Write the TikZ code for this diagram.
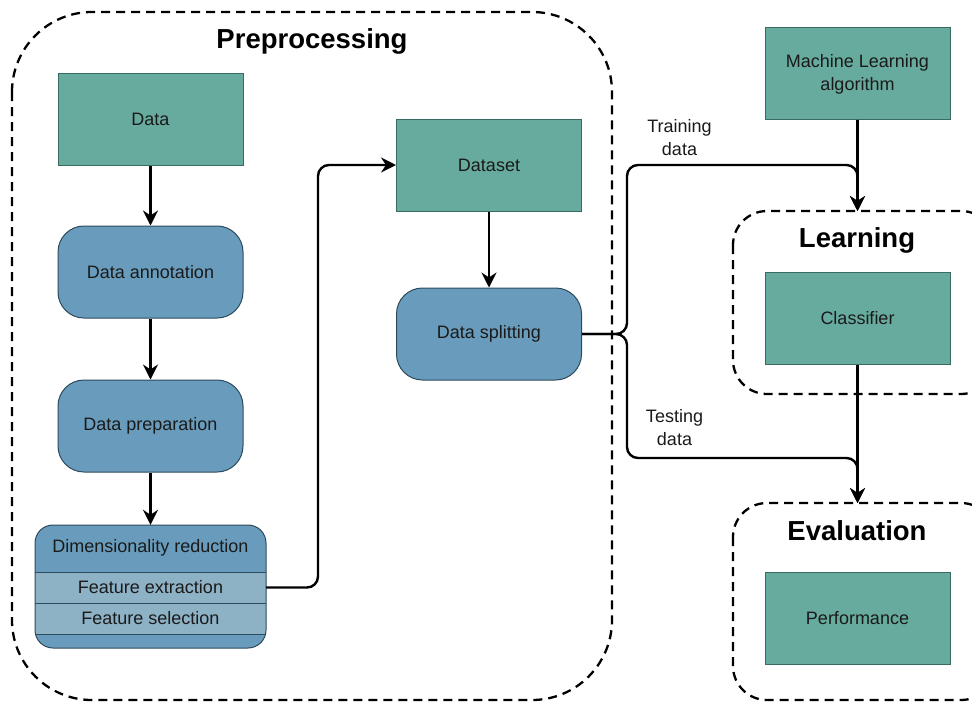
\documentclass[tikz,border=0pt]{standalone}
\usepackage{fontspec}
\setmainfont{Liberation Sans}
\usetikzlibrary{arrows.meta}
\definecolor{greenfill}{HTML}{67AB9F}
\definecolor{greenline}{HTML}{3A6B63}
\definecolor{bluefill}{HTML}{699CBC}
\definecolor{blueline}{HTML}{2C4A5C}
\definecolor{rowfill}{HTML}{8DB1C5}
\definecolor{txt}{HTML}{1A1A1A}
\tikzset{
  base/.style={font=\fontsize{18}{23}\selectfont, text=txt, align=center, inner sep=0pt},
  greenbox/.style={base, rectangle, draw=greenline, line width=1pt, fill=greenfill,
    minimum width=185pt, minimum height=92pt},
  bluebox/.style={base, rectangle, rounded corners=26pt, draw=blueline, line width=1pt,
    fill=bluefill, minimum width=185pt, minimum height=92pt},
  group/.style={draw=black, line width=2.3pt, dash pattern=on 9pt off 6pt},
  grouptitle/.style={font=\fontsize{27.5}{31}\selectfont\bfseries, text=black, inner sep=0pt},
  flow/.style={draw=black, line width=2.4pt, rounded corners=11pt},
  arr/.style={flow, -{Stealth[length=15pt,width=15pt,inset=5pt]}},
  lbl/.style={base}
}
\begin{document}
\begin{tikzpicture}[x=1pt,y=-1pt]
\useasboundingbox (0,0) rectangle (972,705);
\clip (0,0) rectangle (972,705);

% group frames
\draw[group, rounded corners=80pt] (12,12) rectangle (612,700);
\node[grouptitle] (pretitle) at (312,41) {Preprocessing};
\draw[group, rounded corners=34pt] (733,211) rectangle (995,394);
\node[grouptitle] (learntitle) at (857,240) {Learning};
\draw[group, rounded corners=34pt] (733,503) rectangle (995,700);
\node[grouptitle] (evaltitle) at (857,531) {Evaluation};

% preprocessing chain
\node[greenbox] (data) at (150.5,119) {Data};
\node[bluebox] (annot) at (150.5,272) {Data annotation};
\node[bluebox] (prep) at (150.5,426) {Data preparation};

% dimensionality reduction block with its two rows
\node[base, rectangle, rounded corners=18pt, fill=bluefill, minimum width=231pt,
  minimum height=123pt] (dimred) at (150.5,586.5) {};
\fill[rowfill] (35,572) rectangle (266,634);
\draw[blueline, line width=1pt] (35,572) -- (266,572) (35,603) -- (266,603) (35,634) -- (266,634);
\draw[blueline, line width=1pt, rounded corners=18pt] (35,525) rectangle (266,648);
\node[base] (dimtext) at (150.5,547.5) {Dimensionality reduction};
\node[base, minimum width=231pt, minimum height=31pt] (fext) at (150.5,587.5) {Feature extraction};
\node[base, minimum width=231pt, minimum height=31pt] (fsel) at (150.5,618.5) {Feature selection};

\node[greenbox] (dataset) at (489,165) {Dataset};
\node[bluebox] (split) at (489,334) {Data splitting};

% right column
\node[greenbox] (mlalg) at (857.5,73) {\strut Machine Learning\\algorithm};
\node[greenbox] (clf) at (857.5,318) {Classifier};
\node[greenbox] (perf) at (857.5,618) {Performance};

\coordinate (learnin) at (857.5,211);
\coordinate (evalin) at (857.5,503);
\coordinate (fork) at (627,334);

% connectors
\draw[arr] (data) -- (annot);
\draw[arr] (annot) -- (prep);
\draw[arr] (prep) -- (dimred.north);
\draw[arr] (fext.east) -- (318,587.5) -- (318,165) -- (dataset.west);
\draw[arr] (dataset) -- (split);
\draw[arr] (split.east) -- (fork) -- (627,165) -- (857.5,165) -- (learnin);
\draw[arr] (split.east) -- (fork) -- (627,458) -- (857.5,458) -- (evalin);
\draw[arr] (mlalg) -- (learnin);
\draw[arr] (clf) -- (evalin);

% connector labels
\node[lbl] (trainlbl) at (679.5,138) {Training\\data};
\node[lbl] (testlbl) at (674.5,428) {Testing\\data};
\end{tikzpicture}
\end{document}
